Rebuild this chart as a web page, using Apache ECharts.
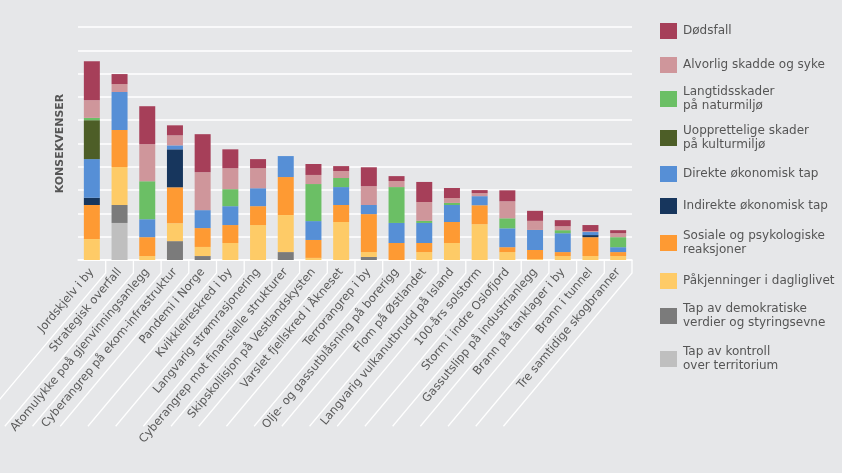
<!DOCTYPE html>
<html>
<head>
<meta charset="utf-8">
<script src="https://cdn.jsdelivr.net/npm/echarts@6/dist/echarts.min.js"></script>
<style>
html,body{margin:0;padding:0;background:#e6e7e9;}
#chart{width:842px;height:473px;}
</style>
</head>
<body>
<div id="chart"></div>
<script>
var categories = [
  'Jordskjelv i by',
  'Strategisk overfall',
  'Atomulykke poå gjenvinningsanlegg',
  'Cyberangrep på ekom-infrastruktur',
  'Pandemi i Norge',
  'Kvikkleireskred i by',
  'Langvarig strømrasjonering',
  'Cyberangrep mot finansielle strukturer',
  'Skipskollisjon på Vestlandskysten',
  'Varslet fjellskred i Åkneset',
  'Terrorangrep i by',
  'Olje- og gassutblåsning på borerigg',
  'Flom på Østlandet',
  'Langvarig vulkanutbrudd på Island',
  '100-års solstorm',
  'Storm i indre Oslofjord',
  'Gassutslipp på industrianlegg',
  'Brann på tanklager i by',
  'Brann i tunnel',
  'Tre samtidige skogbranner'
];

// series values (stack order bottom -> top)
var tapKontroll   = [0, 1.59, 0, 0, 0, 0, 0, 0, 0, 0, 0, 0, 0, 0, 0, 0, 0, 0, 0, 0];
var tapDemokrati  = [0, 0.77, 0, 0.81, 0.17, 0, 0, 0.34, 0, 0, 0.13, 0, 0, 0, 0, 0, 0, 0, 0, 0];
var pakjenninger  = [0.9, 1.63, 0.17, 0.77, 0.39, 0.73, 1.5, 1.59, 0.09, 1.63, 0.21, 0, 0.34, 0.73, 1.54, 0.34, 0.04, 0.17, 0.17, 0.17];
var sosiale       = [1.46, 1.59, 0.81, 1.54, 0.81, 0.77, 0.81, 1.63, 0.77, 0.73, 1.63, 0.73, 0.39, 0.9, 0.81, 0.21, 0.39, 0.17, 0.81, 0.17];
var indirekte     = [0.31, 0, 0, 1.63, 0, 0, 0, 0, 0, 0, 0, 0, 0, 0, 0, 0, 0, 0, 0.09, 0];
var direkte       = [1.66, 1.63, 0.77, 0.17, 0.77, 0.81, 0.77, 0.9, 0.81, 0.77, 0.39, 0.86, 0.86, 0.73, 0.39, 0.81, 0.86, 0.81, 0.13, 0.21];
var kulturmiljo   = [1.67, 0, 0, 0, 0, 0, 0, 0, 0, 0, 0, 0, 0, 0, 0, 0, 0, 0, 0, 0];
var naturmiljo    = [0.1, 0, 1.63, 0, 0, 0.73, 0, 0, 1.59, 0.39, 0, 1.54, 0.09, 0.09, 0, 0.43, 0, 0.13, 0, 0.43];
var alvorlig      = [0.76, 0.34, 1.59, 0.43, 1.63, 0.9, 0.86, 0, 0.39, 0.3, 0.81, 0.26, 0.81, 0.21, 0.13, 0.73, 0.39, 0.17, 0.04, 0.17];
var dodsfall      = [1.67, 0.43, 1.63, 0.43, 1.63, 0.81, 0.39, 0, 0.47, 0.21, 0.81, 0.21, 0.86, 0.43, 0.13, 0.47, 0.43, 0.26, 0.26, 0.13];

var seriesNames = [
  'Tap av kontroll\nover territorium',
  'Tap av demokratiske\nverdier og styringsevne',
  'Påkjenninger i dagliglivet',
  'Sosiale og psykologiske\nreaksjoner',
  'Indirekte økonomisk tap',
  'Direkte økonomisk tap',
  'Uopprettelige skader\npå kulturmiljø',
  'Langtidsskader\npå naturmiljø',
  'Alvorlig skadde og syke',
  'Dødsfall'
];
var seriesData = [tapKontroll, tapDemokrati, pakjenninger, sosiale, indirekte, direkte, kulturmiljo, naturmiljo, alvorlig, dodsfall];
var seriesColors = ['#bfbfbf', '#7b7b7b', '#fecb67', '#fe9a33', '#17365d', '#568fd6', '#4d5e27', '#6bbf65', '#cf969b', '#a63f59'];

var yMax = 10;
var yInterval = 1;

// legend vertical positions (top -> bottom order = Dødsfall ... Tap av kontroll)
var legendTops = [345, 302, 273, 229, 198, 166, 124, 85, 57, 23];

var FONT = 'DejaVu Sans';

var series = seriesNames.map(function (n, i) {
  return {
    name: n,
    type: 'bar',
    stack: 'total',
    barWidth: 16,
    data: seriesData[i],
    itemStyle: { color: seriesColors[i] },
    emphasis: { disabled: true }
  };
});

// slanted separator lines below the axis
series.push({
  type: 'custom',
  silent: true,
  clip: false,
  z: 1,
  data: categories.map(function (c, i) { return [i, 0]; }),
  renderItem: function (params, api) {
    var i = api.value(0);
    var p = api.coord([i, 0]);
    var bw = api.size([1, 0])[0];
    var x = p[0] + bw / 2;
    var y0 = p[1] + 13;
    var ang = 50 * Math.PI / 180;
    var L = 200;
    return {
      type: 'polyline',
      shape: { points: [[x, p[1]], [x, y0], [x - L * Math.cos(ang), y0 + L * Math.sin(ang)]] },
      style: { stroke: '#ffffff', lineWidth: 1.3, fill: null }
    };
  }
});

var legends = seriesNames.map(function (n, i) {
  return {
    left: 660,
    top: legendTops[i],
    orient: 'vertical',
    padding: 0,
    itemWidth: 17,
    itemHeight: 16,
    itemGap: 0,
    icon: 'rect',
    selectedMode: false,
    data: [n],
    textStyle: { color: '#555555', fontSize: 12, lineHeight: 14, fontFamily: FONT, padding: [0, 0, 0, 1] }
  };
});

var chart = echarts.init(document.getElementById('chart'));
chart.setOption({
  backgroundColor: '#e6e7e9',
  animation: false,
  legend: legends,
  grid: { left: 78, right: 210, top: 27, bottom: 213 },
  xAxis: {
    type: 'category',
    data: categories,
    axisLine: { show: true, lineStyle: { color: '#ffffff', width: 1.5 } },
    axisTick: { show: false },
    axisLabel: {
      interval: 0,
      rotate: 50,
      margin: 10,
      color: '#5a5a5a',
      fontSize: 11.5,
      fontFamily: FONT
    }
  },
  yAxis: {
    type: 'value',
    min: 0,
    max: yMax,
    interval: yInterval,
    name: 'KONSEKVENSER',
    nameLocation: 'middle',
    nameGap: 12,
    nameTextStyle: { color: '#555555', fontSize: 11, fontWeight: 'bold', fontFamily: FONT },
    axisLine: { show: false },
    axisTick: { show: false },
    axisLabel: { show: false },
    splitLine: { lineStyle: { color: '#ffffff', width: 1.5 } }
  },
  series: series
});
</script>
</body>
</html>
